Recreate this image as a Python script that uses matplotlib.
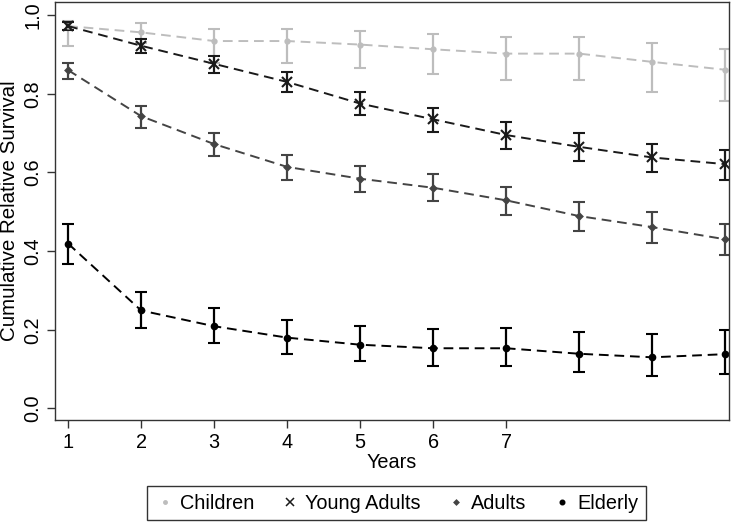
import matplotlib
matplotlib.use("Agg")
import matplotlib.pyplot as plt
from matplotlib.lines import Line2D

plt.rcParams['font.family'] = ['Liberation Sans', 'DejaVu Sans']

years = [1, 2, 3, 4, 5, 6, 7, 8, 9, 10]
tick_years = [1, 2, 3, 4, 5, 6, 7]

# estimates and 95% CI bounds
children = [0.972, 0.956, 0.934, 0.934, 0.925, 0.913, 0.902, 0.902, 0.881, 0.861]
children_lo = [0.922, 0.930, 0.879, 0.879, 0.866, 0.850, 0.834, 0.834, 0.805, 0.781]
children_hi = [0.985, 0.979, 0.964, 0.964, 0.959, 0.952, 0.945, 0.945, 0.930, 0.914]

young = [0.972, 0.922, 0.876, 0.830, 0.775, 0.735, 0.695, 0.665, 0.638, 0.621]
young_lo = [0.962, 0.904, 0.852, 0.804, 0.746, 0.702, 0.659, 0.628, 0.600, 0.582]
young_hi = [0.982, 0.939, 0.896, 0.855, 0.805, 0.765, 0.727, 0.700, 0.673, 0.657]

adults = [0.860, 0.743, 0.672, 0.614, 0.584, 0.561, 0.529, 0.489, 0.461, 0.430]
adults_lo = [0.837, 0.714, 0.641, 0.582, 0.551, 0.527, 0.493, 0.450, 0.421, 0.389]
adults_hi = [0.879, 0.768, 0.700, 0.644, 0.617, 0.595, 0.563, 0.526, 0.499, 0.469]

elderly = [0.419, 0.249, 0.209, 0.180, 0.162, 0.153, 0.153, 0.139, 0.130, 0.138]
elderly_lo = [0.368, 0.204, 0.167, 0.138, 0.120, 0.109, 0.108, 0.093, 0.082, 0.088]
elderly_hi = [0.470, 0.296, 0.256, 0.226, 0.209, 0.203, 0.205, 0.194, 0.188, 0.200]

labels = ["Children", "Young Adults", "Adults", "Elderly"]
series = [(children, children_lo, children_hi, '#bdbdbd', 'o', 3),
          (young, young_lo, young_hi, '#1a1a1a', 'x', 7),
          (adults, adults_lo, adults_hi, '#444444', 'D', 3),
          (elderly, elderly_lo, elderly_hi, '#000000', 'o', 4)]

fs = 14.3

fig = plt.figure(figsize=(7.39, 5.24), dpi=100)
ax = fig.add_axes([0.0744, 0.198, 0.912, 0.798])

handles = []
for (vals, lo, hi, col, mk, ms), lab in zip(series, labels):
    err = [[v - l for v, l in zip(vals, lo)], [h - v for v, h in zip(vals, hi)]]
    ax.errorbar(years, vals, yerr=err, color=col, ecolor=col, elinewidth=1.6,
                capsize=4.5, capthick=1.6, linestyle=(0, (5, 3)), linewidth=1.4,
                marker=mk, markersize=ms, markeredgewidth=1.5)
    handles.append(Line2D([], [], color=col, marker=mk, linestyle='none',
                          markersize=ms * 0.8, markeredgewidth=1.1, label=lab))

ax.set_xlim(0.82, 10.05)
ax.set_ylim(-0.03, 1.033)
ax.set_xticks(tick_years)
ax.set_xticklabels([str(t) for t in tick_years])
ax.set_yticks([0.0, 0.2, 0.4, 0.6, 0.8, 1.0])
ax.set_yticklabels(["0.0", "0.2", "0.4", "0.6", "0.8", "1.0"], rotation=90, va='center')
ax.tick_params(labelsize=fs, length=6, width=1, color='#333333', pad=3)
ax.set_xlabel("Years", fontsize=fs, labelpad=1)
ax.set_ylabel("Cumulative Relative Survival", fontsize=fs + 0.5, labelpad=3)
for s in ax.spines.values():
    s.set_color('#333333')
    s.set_linewidth(1)

leg = fig.legend(handles=handles, loc='center', bbox_to_anchor=(0.537, 0.04), ncol=4,
                 fontsize=fs, frameon=True, fancybox=False, edgecolor='#000000',
                 handletextpad=0.25, columnspacing=1.3, handlelength=1.0,
                 borderpad=0.4)
leg.get_frame().set_linewidth(1)

fig.savefig("out.png", dpi=100)
